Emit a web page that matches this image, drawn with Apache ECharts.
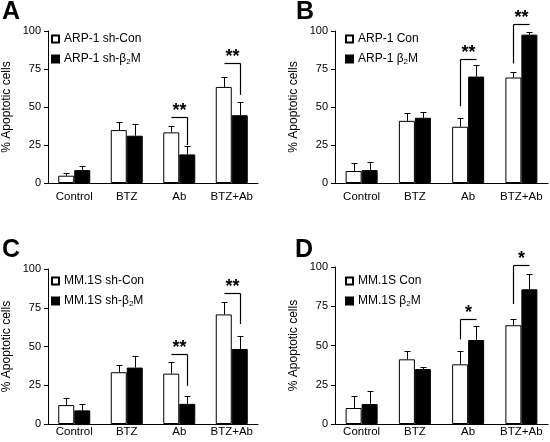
<!DOCTYPE html>
<html>
<head>
<meta charset="utf-8">
<script src="https://cdn.jsdelivr.net/npm/echarts@6/dist/echarts.min.js"></script>
<style>html,body{margin:0;padding:0;background:#fff}#c{width:550px;height:442px}</style>
</head>
<body>
<div id="c"></div>
<script>
const categories = ['Control', 'BTZ', 'Ab', 'BTZ+Ab'];
const yTicks = [0, 25, 50, 75, 100];
const panelLetters = ['A', 'B', 'C', 'D'];
const yTitle = '% Apoptotic cells';

// series names per panel: [control (white), treated (black)]
const namesA = ['ARP-1 sh-Con', 'ARP-1 sh-β2M'];
const namesB = ['ARP-1 Con', 'ARP-1 β2M'];
const namesC = ['MM.1S sh-Con', 'MM.1S sh-β2M'];
const namesD = ['MM.1S Con', 'MM.1S β2M'];

// means and SD (upper error)
const conA = [4.8, 34.8, 33.3, 63.2];   const conAsd = [1.6, 5.5, 4.1, 6.6];
const kdA  = [8.5, 31.1, 18.8, 44.6];   const kdAsd  = [2.7, 7.6, 5.5, 8.4];
const conB = [7.9, 40.9, 37.0, 69.4];   const conBsd = [5.0, 5.3, 5.5, 3.7];
const oeB  = [8.5, 42.9, 70.0, 97.6];   const oeBsd  = [5.5, 4.1, 7.5, 2.0];
const conC = [12.2, 33.4, 32.5, 70.7];  const conCsd = [4.3, 4.7, 7.7, 8.1];
const kdC  = [8.8, 36.4, 13.0, 48.4];   const kdCsd  = [4.0, 7.7, 4.8, 8.3];
const conD = [10.2, 41.2, 38.0, 62.9];  const conDsd = [7.8, 5.3, 8.5, 4.0];
const oeD  = [12.7, 35.0, 53.5, 85.8];  const oeDsd  = [8.1, 1.5, 8.9, 9.7];

// significance brackets: [category index, bracket level, drop end, drop side (0 white / 1 black)]
const sigA = [[2, 43.1, 25.0, 1], [3, 79.0, 58.0, 1]];
const sigB = [[2, 81.4, 50.5, 0], [3, 104.4, 78.6, 0]];
const sigC = [[2, 45.2, 24.6, 1], [3, 84.2, 64.5, 1]];
const sigD = [[2, 66.9, 53.9, 0], [3, 101.5, 76.4, 0]];
const sigLabelsA = ['**', '**'];
const sigLabelsB = ['**', '**'];
const sigLabelsC = ['**', '**'];
const sigLabelsD = ['*', '*'];

const panels = [
  {names: namesA, con: conA, consd: conAsd, trt: kdA, trtsd: kdAsd, sig: sigA, sigL: sigLabelsA},
  {names: namesB, con: conB, consd: conBsd, trt: oeB, trtsd: oeBsd, sig: sigB, sigL: sigLabelsB},
  {names: namesC, con: conC, consd: conCsd, trt: kdC, trtsd: kdCsd, sig: sigC, sigL: sigLabelsC},
  {names: namesD, con: conD, consd: conDsd, trt: oeD, trtsd: oeDsd, sig: sigD, sigL: sigLabelsD}
];

const FONT = '"Liberation Sans", Arial, sans-serif';
const BW = 16;
const grids = [
  {left: 42, top: 31, width: 216, height: 152},
  {left: 335, top: 31, width: 213, height: 152},
  {left: 42, top: 269, width: 216, height: 155},
  {left: 335, top: 267, width: 213, height: 157}
];
const xLabelMargin = [8, 8, 2, 2];
const legendPos = [
  {left: 51, top: 32}, {left: 345, top: 32}, {left: 51, top: 274}, {left: 345, top: 274}
];
const letterPos = [[2, 0], [296, 0], [2, 238], [295, 238]];

function errRender(offset) {
  return function (params, api) {
    const cat = api.value(0), v = api.value(1), sd = api.value(2);
    const p0 = api.coord([cat, v]);
    const p1 = api.coord([cat, v + sd]);
    const x = Math.round(p0[0] + offset) + 0.5;
    const yt = Math.round(p1[1]) + 0.5;
    return {type: 'group', children: [
      {type: 'line', shape: {x1: x, y1: p0[1], x2: x, y2: yt}, style: {stroke: '#000', lineWidth: 1}},
      {type: 'line', shape: {x1: x - 3, y1: yt, x2: x + 3, y2: yt}, style: {stroke: '#000', lineWidth: 1}}
    ]};
  };
}
function sigRender(labels) {
  return function (params, api) {
    const cat = api.value(0), lvl = api.value(1), drop = api.value(2), side = api.value(3);
    const pL = api.coord([cat, lvl]);
    const pD = api.coord([cat, drop]);
    const xw = Math.round(pL[0] - BW / 2) + 0.5, xb = Math.round(pL[0] + BW / 2) + 0.5;
    const y = Math.round(pL[1]) + 0.5;
    const xs = side === 0 ? xw : xb;
    return {type: 'group', children: [
      {type: 'line', shape: {x1: xw, y1: y, x2: xb, y2: y}, style: {stroke: '#000', lineWidth: 1.2}},
      {type: 'line', shape: {x1: xs, y1: y, x2: xs, y2: pD[1]}, style: {stroke: '#000', lineWidth: 1.2}},
      {type: 'text', x: (xw + xb) / 2, y: y - 6, style: {text: labels[params.dataIndex], fill: '#000',
        font: 'bold 18px ' + FONT, textAlign: 'center', textVerticalAlign: 'middle'}}
    ]};
  };
}

const option = {
  animation: false,
  backgroundColor: '#fff',
  textStyle: {fontFamily: FONT, color: '#000'},
  grid: grids,
  xAxis: grids.map((g, i) => ({
    type: 'category', gridIndex: i, data: categories,
    axisLine: {lineStyle: {color: '#000', width: 1}},
    axisTick: {show: false},
    axisLabel: {color: '#000', fontSize: 11.5, margin: xLabelMargin[i], fontFamily: FONT, interval: 0, hideOverlap: false}
  })),
  yAxis: grids.map((g, i) => ({
    type: 'value', gridIndex: i, min: yTicks[0], max: yTicks[yTicks.length - 1], interval: 25,
    name: yTitle, nameLocation: 'middle', nameGap: 35,
    nameTextStyle: {color: '#000', fontSize: 12, fontFamily: FONT},
    axisLine: {show: true, lineStyle: {color: '#000', width: 1}},
    axisTick: {show: true, length: 4, lineStyle: {color: '#000'}},
    axisLabel: {color: '#000', fontSize: 11, margin: 7, fontFamily: FONT},
    splitLine: {show: false}
  })),
  legend: panels.map((p, i) => ({
    data: p.names, orient: 'vertical', left: legendPos[i].left, top: legendPos[i].top,
    icon: 'rect', itemWidth: 7, itemHeight: 7, itemGap: 6, selectedMode: false,
    padding: 0,
    formatter: n => n.replace('β2M', 'β{s|2}M'),
    textStyle: {color: '#000', fontSize: 12, fontFamily: FONT, lineHeight: 14,
      rich: {s: {fontSize: 8, lineHeight: 14, verticalAlign: 'bottom', padding: [6, 0, 0, 0]}}}
  })),
  graphic: panelLetters.map((L, i) => ({
    type: 'text', left: letterPos[i][0], top: letterPos[i][1],
    style: {text: L, font: 'bold 25px ' + FONT, fill: '#000'}
  })),
  series: []
};

panels.forEach((p, i) => {
  option.series.push({
    name: p.names[0], type: 'bar', xAxisIndex: i, yAxisIndex: i, data: p.con,
    barWidth: BW, barGap: '0%',
    itemStyle: {color: '#fff', borderColor: '#000', borderWidth: 1}
  });
  option.series.push({
    name: p.names[1], type: 'bar', xAxisIndex: i, yAxisIndex: i, data: p.trt,
    barWidth: BW, barGap: '0%',
    itemStyle: {color: '#000', borderColor: '#000', borderWidth: 1}
  });
  option.series.push({
    type: 'custom', xAxisIndex: i, yAxisIndex: i, z: 5,
    data: p.con.map((v, k) => [k, v, p.consd[k]]), encode: {x: 0, y: 1},
    renderItem: errRender(-BW / 2)
  });
  option.series.push({
    type: 'custom', xAxisIndex: i, yAxisIndex: i, z: 5,
    data: p.trt.map((v, k) => [k, v, p.trtsd[k]]), encode: {x: 0, y: 1},
    renderItem: errRender(BW / 2)
  });
  option.series.push({
    type: 'custom', xAxisIndex: i, yAxisIndex: i, z: 6, clip: false,
    data: p.sig, encode: {x: 0, y: 1},
    renderItem: sigRender(p.sigL)
  });
});

const chart = echarts.init(document.getElementById('c'), null, {renderer: 'canvas'});
chart.setOption(option);
</script>
</body>
</html>
